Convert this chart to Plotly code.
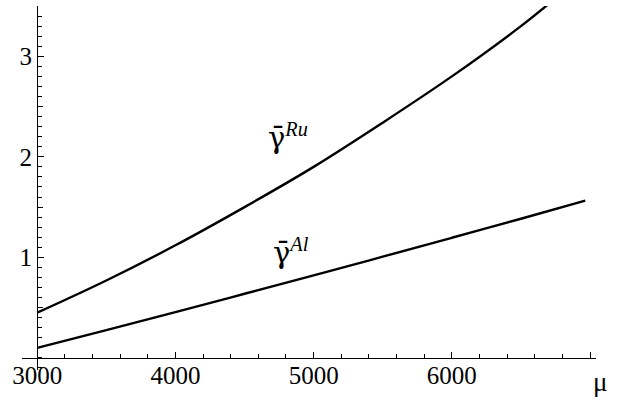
import plotly.graph_objects as go

# data
mu_ru = [3000, 3500, 4000, 4500, 5000, 5500, 6000, 6500, 6700]
gamma_ru = [0.45, 0.77, 1.12, 1.50, 1.90, 2.34, 2.80, 3.30, 3.52]
mu_al = [3000, 3500, 4000, 4500, 5000, 5500, 6000, 6500, 6965]
gamma_al = [0.10, 0.277, 0.456, 0.638, 0.821, 1.007, 1.195, 1.384, 1.564]

x_tickvals = [3000, 4000, 5000, 6000, 7000]
x_ticktext = ["3000", "4000", "5000", "6000", " "]
y_tickvals = [1, 2, 3]
y_ticktext = ["1", "2", "3"]
y_half_ticks = [0.5, 1.5, 2.5]

X_RANGE = [2890, 7043]
Y_RANGE = [-0.12, 3.5]
FONT = "Liberation Serif"

fig = go.Figure()
fig.add_trace(go.Scatter(x=mu_ru, y=gamma_ru, mode="lines",
                         line=dict(color="black", width=2.4, shape="spline"),
                         showlegend=False, hoverinfo="skip"))
fig.add_trace(go.Scatter(x=mu_al, y=gamma_al, mode="lines",
                         line=dict(color="black", width=2.4, shape="spline"),
                         showlegend=False, hoverinfo="skip"))

xpos = (0 - Y_RANGE[0]) / (Y_RANGE[1] - Y_RANGE[0])
ypos = (3000 - X_RANGE[0]) / (X_RANGE[1] - X_RANGE[0])

fig.update_layout(
    width=617, height=404,
    margin=dict(l=22, r=21, t=6, b=34),
    paper_bgcolor="white", plot_bgcolor="white",
    font=dict(family=FONT, size=25, color="black"),
    xaxis=dict(range=X_RANGE, showgrid=False, zeroline=False, automargin=False,
               anchor="free", position=xpos,
               showline=True, linecolor="black", linewidth=1.2,
               tickmode="array", tickvals=x_tickvals, ticktext=x_ticktext,
               ticks="inside", ticklen=6, tickwidth=1, tickcolor="black",
               ticklabelstandoff=-5,
               minor=dict(dtick=200, tick0=3000, ticks="inside", ticklen=3.5,
                          tickwidth=1, tickcolor="black", showgrid=False),
               tickfont=dict(family=FONT, size=25, color="black")),
    yaxis=dict(range=Y_RANGE, showgrid=False, zeroline=False, automargin=False,
               anchor="free", position=ypos,
               showline=True, linecolor="black", linewidth=1.2,
               tickmode="array", tickvals=y_tickvals, ticktext=y_ticktext,
               ticks="inside", ticklen=6, tickwidth=1, tickcolor="black",
               minor=dict(dtick=0.1, tick0=0, ticks="inside", ticklen=3.5,
                          tickwidth=1, tickcolor="black", showgrid=False),
               tickfont=dict(family=FONT, size=25, color="black")),
    yaxis2=dict(range=Y_RANGE, overlaying="y", showgrid=False, zeroline=False,
                automargin=False, anchor="free", position=ypos, side="left",
                showline=False, tickmode="array", tickvals=y_half_ticks,
                ticktext=["", "", ""], showticklabels=False,
                ticks="inside", ticklen=5, tickwidth=1, tickcolor="black"),
    annotations=[
        dict(x=4815, y=2.20, xref="x", yref="y", showarrow=False,
             text="<span style='font-family:DejaVu Serif'>γ\u0304</span><sup><i>Ru</i></sup>",
             font=dict(family=FONT, size=29, color="black"),
             xanchor="center", yanchor="middle"),
        dict(x=4836, y=1.055, xref="x", yref="y", showarrow=False,
             text="<span style='font-family:DejaVu Serif'>γ\u0304</span><sup><i>Al</i></sup>",
             font=dict(family=FONT, size=29, color="black"),
             xanchor="center", yanchor="middle"),
        dict(x=1.007, y=0.0137, xref="paper", yref="paper", showarrow=False,
             text="μ", font=dict(family=FONT, size=27, color="black"),
             xanchor="center", yanchor="top"),
    ],
)
# invisible trace to activate the half-tick axis
fig.add_trace(go.Scatter(x=[mu_al[0]], y=[gamma_al[0]], yaxis="y2", mode="markers",
                         marker=dict(opacity=0), showlegend=False, hoverinfo="skip"))

fig.write_html("out.html", config={"displayModeBar": False},
               post_script="document.body.style.margin='0px';document.body.style.overflow='hidden';")
